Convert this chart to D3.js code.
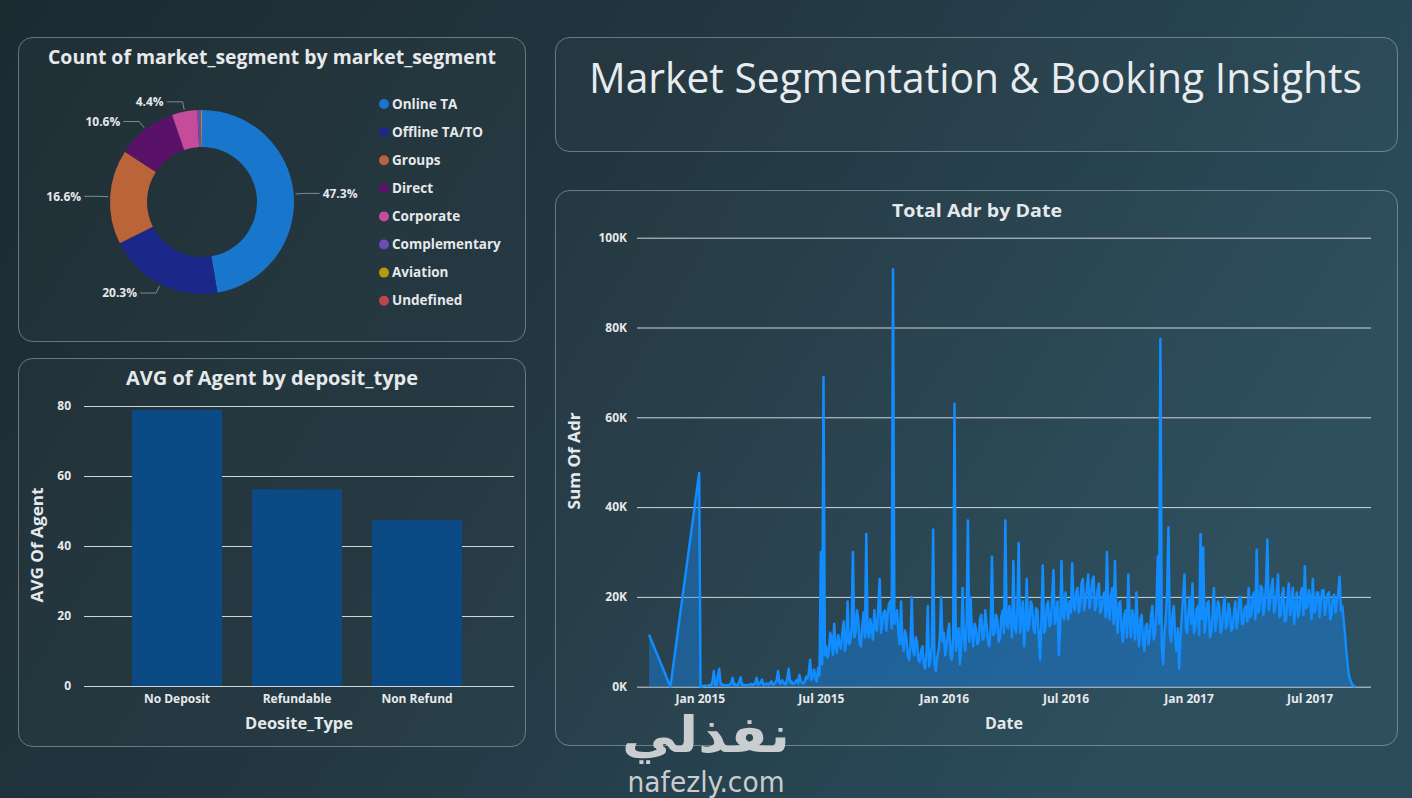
<!DOCTYPE html>
<html>
<head>
<meta charset="utf-8">
<script src="https://cdn.jsdelivr.net/npm/d3@7"></script>
<style>
  html, body { margin: 0; padding: 0; width: 1412px; height: 798px; overflow: hidden; background: #1f2f38; }
  svg { display: block; font-family: "Open Sans", "Noto Sans", sans-serif; }
</style>
</head>
<body>
<div id="chart"></div>
<script>
// donut: market segments
const segments = ["Online TA", "Offline TA/TO", "Groups", "Direct", "Corporate", "Complementary", "Aviation", "Undefined"]
const segmentCounts = [56477, 24219, 19811, 12606, 5295, 743, 237, 2]
const segmentColors = ["#1877cd", "#1b2789", "#bb6439", "#5a1168", "#c44c9a", "#6a4bb8", "#b5990f", "#b9474d"]

// bars: average agent by deposit type
const depositTypes = ["No Deposit", "Refundable", "Non Refund"]
const avgAgent = [78.9, 56.2, 47.4]
const agentTicks = [0, 20, 40, 60, 80]

// line: total adr by date (sparse start, then one value every 2 days)
const sparseDates = ["2014-10-17", "2014-11-18", "2014-12-31"]
const sparseAdr = [11600, 0, 47600]
const adrStart = "2015-01-02"
const adrStepDays = 2
const adrValues = [
  // Jan - Jun 2015
  0, 100, 150, 250, 200, 150, 300, 400, 250, 1200, 3500, 200, 300, 2500, 4000, 500, 600, 300, 400, 350,
  300, 250, 500, 900, 2000, 400, 600, 300, 400, 1200, 2100, 300, 500, 400, 300, 350, 450, 500, 600, 400,
  500, 800, 2000, 500, 700, 900, 1600, 400, 500, 700, 600, 500, 800, 1200, 500, 600, 900, 1500, 3500, 800,
  700, 1400, 1000, 500, 600, 2000, 4000, 900, 1200, 600, 800, 1100, 1500, 700, 2600, 1300, 900, 700, 1200, 2200,
  1800, 3000, 6000, 1500, 2500, 3800, 1800, 1200, 4200, 2500,
  30000, 5000, 69000, 7000,
  // Jul - Dec 2015
  9000, 6500, 8000, 12000, 11000, 7000, 14000, 9000, 7500, 11500, 9500, 8500, 12000, 14500, 8000, 10000, 19000, 9500, 10000, 13000,
  30000, 11000, 12000, 17000, 15000, 10000, 9000, 13500, 16500, 11000, 34000, 12000, 11000, 15000, 13000, 10500, 17000, 13000, 12500, 18000,
  24000, 12000, 14000, 16500, 17000, 12500, 16000, 18500, 19000, 13000, 93000, 14000, 15000, 17000, 12000, 9500, 19000, 10000, 8000, 12500,
  11000, 7000, 6000, 9000, 20000, 8000, 7000, 11000, 10000, 6000, 5500, 8000, 9000, 5000, 4000, 7500, 18000, 4500, 6000, 9000,
  35000, 5000, 3500, 6500, 8000, 11000, 20000, 10000, 12000, 7000,
  // Jan - Jun 2016
  9000, 12000, 14000, 7000, 6000, 11000, 63000, 8000, 10000, 13000, 5000, 9000, 22000, 11000, 8000, 14000, 37000, 10000, 20000, 12000,
  9000, 14000, 13000, 9500, 10000, 15000, 16000, 10500, 11000, 17000, 14000, 10000, 9000, 13000, 29000, 11500, 12000, 16000, 15000, 10000,
  11000, 15500, 17000, 12000, 37000, 14000, 13000, 18000, 16000, 11000, 28000, 13500, 12000, 17000, 32000, 12000, 15000, 19000, 9000, 14000,
  24000, 12500, 14000, 19000, 18000, 13000, 12000, 17500, 17000, 11000, 6000, 15000, 27000, 12000, 13000, 18000, 19000, 13500, 14000, 20000,
  26000, 14000, 16000, 19000, 7000, 13000, 28000, 16000, 15000, 21000, 18000, 15000,
  // Jul - Dec 2016
  19000, 16500, 27500, 18000, 17000, 21000, 22000, 16500, 18000, 23000, 24000, 17000, 19000, 22000, 25000, 17500, 20000, 23500, 24500, 17000,
  18000, 21500, 23000, 16500, 17000, 20000, 21000, 15500, 30000, 17000, 15000, 20500, 22000, 14000, 28000, 16000, 12000, 18500, 19000, 12500,
  10000, 16000, 17000, 11000, 25000, 14500, 11000, 17000, 15000, 10500, 21000, 13000, 9000, 15000, 16000, 10000, 8000, 13500, 14000, 9500,
  11000, 16000, 18000, 10500, 12000, 17000, 29000, 14000, 77500, 9000, 5000, 12000, 15000, 21000, 35500, 12000, 10000, 16000, 18000, 11000,
  8000, 13000, 4000, 11000, 16000, 20000, 25000, 13000, 12000, 17000, 20000, 14000,
  // Jan - Jun 2017
  23000, 12000, 13000, 17000, 18000, 11500, 34000, 15000, 31000, 12000, 14000, 18500, 19000, 11000, 12000, 16000, 22000, 12500, 15000, 19000,
  18000, 12000, 13000, 17500, 20000, 13000, 14000, 18500, 17000, 12500, 13000, 16500, 19000, 13000, 15000, 20000, 20000, 14000, 14000, 17500,
  18000, 14500, 22000, 15500, 16000, 20000, 21000, 15000, 30500, 16500, 17000, 22500, 22000, 16000, 18000, 23000, 32800, 17000, 19000, 22000,
  24000, 16500, 18000, 21000, 25000, 15500, 16000, 20500, 22000, 14500, 15000, 19500, 23000, 16000, 19000, 22000, 14000, 18000, 21000, 15500,
  17000, 21000, 22000, 16000, 26800, 17500, 18000, 21500, 20000, 15000,
  // Jul - Sep 2017
  24000, 16500, 17000, 21000, 21000, 15500, 19000, 21500, 21500, 16000, 18000, 20500, 21000, 15000, 16000, 20000, 20500, 16500, 19000, 21000,
  24500, 17000, 18000, 15000, 12000, 8000, 5000, 2500, 1500, 700, 300, 100, 0
]
const adrTicks = [0, 20000, 40000, 60000, 80000, 100000]
const dateTicks = ["2015-01-01", "2015-07-01", "2016-01-01", "2016-07-01", "2017-01-01", "2017-07-01"]

const W = 1412, H = 798
const textColor = "#e6e9eb"
const gridColor = "#cfd6da"

const svg = d3.select("#chart").append("svg")
  .attr("width", W)
  .attr("height", H)

const defs = svg.append("defs")
const bg = defs.append("linearGradient")
  .attr("id", "bg")
  .attr("x1", "0").attr("y1", "0").attr("x2", "1").attr("y2", "0.35")
bg.append("stop").attr("offset", "0").attr("stop-color", "#1c2a32")
bg.append("stop").attr("offset", "0.45").attr("stop-color", "#22363f")
bg.append("stop").attr("offset", "1").attr("stop-color", "#2a4c5b")

svg.append("rect")
  .attr("width", W).attr("height", H)
  .attr("fill", "url(#bg)")

function panel(x, y, w, h) {
  svg.append("rect")
    .attr("x", x + 0.5).attr("y", y + 0.5)
    .attr("width", w).attr("height", h)
    .attr("rx", 14)
    .attr("fill", "rgba(255,255,255,0.02)")
    .attr("stroke", "rgba(195,205,210,0.45)")
    .attr("stroke-width", 1)
}

function title(text, cx, y, size, width, weight) {
  const t = svg.append("text")
    .attr("x", cx).attr("y", y)
    .attr("text-anchor", "middle")
    .attr("fill", textColor)
    .attr("font-size", size)
    .attr("font-weight", weight || 700)
    .text(text)
  if (width) t.attr("textLength", width).attr("lengthAdjust", "spacingAndGlyphs")
  return t
}

panel(18, 37, 507, 304)
panel(18, 358, 507, 388)
panel(555, 37, 842, 114)
panel(555, 190, 842, 555)

// ---- header
title("Market Segmentation & Booking Insights", 975.5, 93, 42, 773, 400)
  .attr("fill", "#e8ecee")

// ---- donut
title("Count of market_segment by market_segment", 272, 64, 19, 448)

const donut = svg.append("g").attr("transform", "translate(202,202)")
const total = d3.sum(segmentCounts)
const pieData = d3.pie().sort(null).value(d => d)(segmentCounts)
const arc = d3.arc().innerRadius(55).outerRadius(92)

donut.selectAll("path")
  .data(pieData)
  .join("path")
  .attr("d", arc)
  .attr("fill", (d, i) => segmentColors[i])

const labelled = pieData.filter(d => d.value / total > 0.03)
labelled.forEach(d => {
  const a = (d.startAngle + d.endAngle) / 2
  const right = Math.sin(a) > 0
  const p1 = [Math.sin(a) * 94, -Math.cos(a) * 94]
  const p2 = [Math.sin(a) * 102, -Math.cos(a) * 102]
  const p3 = [p2[0] + (right ? 16 : -16), p2[1]]
  donut.append("polyline")
    .attr("points", [p1, p2, p3].map(p => p.join(",")).join(" "))
    .attr("fill", "none")
    .attr("stroke", "#7f8c93")
    .attr("stroke-width", 1)
  donut.append("text")
    .attr("x", p3[0] + (right ? 3 : -3))
    .attr("y", p3[1])
    .attr("dy", "0.35em")
    .attr("text-anchor", right ? "start" : "end")
    .attr("fill", textColor)
    .attr("font-size", 12)
    .attr("font-weight", 700)
    .text((d.value / total * 100).toFixed(1) + "%")
})

const legend = svg.append("g").attr("transform", "translate(384,104)")
const rows = legend.selectAll("g")
  .data(segments)
  .join("g")
  .attr("transform", (d, i) => `translate(0,${i * 28.1})`)
rows.append("circle")
  .attr("r", 5)
  .attr("fill", (d, i) => segmentColors[i])
rows.append("text")
  .attr("x", 8)
  .attr("dy", "0.35em")
  .attr("fill", textColor)
  .attr("font-size", 13.5)
  .attr("font-weight", 700)
  .text(d => d)

// ---- bar chart
title("AVG of Agent by deposit_type", 272, 385, 19, 292)

const xb = d3.scaleBand()
  .domain(depositTypes)
  .range([117, 477])
  .paddingInner(0.25)
  .paddingOuter(0.125)
const yb = d3.scaleLinear().domain([0, 80]).range([686, 406])

const barAxis = svg.append("g")
  .attr("transform", "translate(84,0)")
  .call(d3.axisLeft(yb).tickValues(agentTicks).tickSize(-430).tickPadding(13))
barAxis.select(".domain").remove()
barAxis.selectAll("line").attr("stroke", gridColor).attr("stroke-width", 1)
barAxis.selectAll("text")
  .attr("fill", textColor).attr("font-size", 12).attr("font-weight", 700)
  .attr("font-family", "Open Sans, sans-serif")

svg.append("g").selectAll("rect")
  .data(depositTypes)
  .join("rect")
  .attr("x", d => xb(d))
  .attr("y", (d, i) => yb(avgAgent[i]))
  .attr("width", xb.bandwidth())
  .attr("height", (d, i) => yb(0) - yb(avgAgent[i]))
  .attr("fill", "#0c4a86")

const barX = svg.append("g")
  .attr("transform", "translate(0,686)")
  .call(d3.axisBottom(xb).tickSize(0).tickPadding(8))
barX.select(".domain").remove()
barX.selectAll("text")
  .attr("fill", textColor).attr("font-size", 12).attr("font-weight", 700)
  .attr("font-family", "Open Sans, sans-serif")

title("Deosite_Type", 299, 729, 16, 108)
svg.append("text")
  .attr("transform", "translate(43,545) rotate(-90)")
  .attr("text-anchor", "middle")
  .attr("fill", textColor)
  .attr("font-size", 16)
  .attr("font-weight", 700)
  .attr("textLength", 115)
  .attr("lengthAdjust", "spacingAndGlyphs")
  .text("AVG Of Agent")

// ---- line chart
title("Total Adr by Date", 977, 217, 18, 170)

const parse = d3.timeParse("%Y-%m-%d")
const adrSeries = sparseDates.map((d, i) => ({ date: parse(d), value: sparseAdr[i] }))
  .concat(adrValues.map((v, i) => ({ date: d3.timeDay.offset(parse(adrStart), i * adrStepDays), value: v })))

const xl = d3.scaleTime()
  .domain([parse("2014-09-29"), parse("2017-10-01")])
  .range([637, 1371])
const yl = d3.scaleLinear().domain([0, 100000]).range([686.7, 237.7])

const lineAxis = svg.append("g")
  .attr("transform", "translate(637,0)")
  .call(d3.axisLeft(yl).tickValues(adrTicks).tickFormat(d => d / 1000 + "K").tickSize(-734).tickPadding(10))
lineAxis.select(".domain").remove()
lineAxis.selectAll("line").attr("stroke", gridColor).attr("stroke-width", 1)
lineAxis.selectAll("text")
  .attr("fill", textColor).attr("font-size", 12).attr("font-weight", 700)
  .attr("font-family", "Open Sans, sans-serif")

svg.append("path")
  .datum(adrSeries)
  .attr("d", d3.area().x(d => xl(d.date)).y0(yl(0)).y1(d => yl(d.value)))
  .attr("fill", "#118dff")
  .attr("fill-opacity", 0.4)

svg.append("path")
  .datum(adrSeries)
  .attr("d", d3.line().x(d => xl(d.date)).y(d => yl(d.value)))
  .attr("fill", "none")
  .attr("stroke", "#118dff")
  .attr("stroke-width", 2.5)
  .attr("stroke-linejoin", "round")

const lineX = svg.append("g")
  .attr("transform", "translate(0,686.7)")
  .call(d3.axisBottom(xl).tickValues(dateTicks.map(parse)).tickFormat(d3.timeFormat("%b %Y")).tickSize(0).tickPadding(8))
lineX.select(".domain").remove()
lineX.selectAll("text")
  .attr("fill", textColor).attr("font-size", 12).attr("font-weight", 700)
  .attr("font-family", "Open Sans, sans-serif")

title("Date", 1004, 729, 16, 38)
svg.append("text")
  .attr("transform", "translate(580,461) rotate(-90)")
  .attr("text-anchor", "middle")
  .attr("fill", textColor)
  .attr("font-size", 16)
  .attr("font-weight", 700)
  .attr("textLength", 97)
  .attr("lengthAdjust", "spacingAndGlyphs")
  .text("Sum Of Adr")

// ---- watermark
svg.append("text")
  .attr("x", 706).attr("y", 752)
  .attr("text-anchor", "middle")
  .attr("fill", "#c9cdcf")
  .attr("font-family", "DejaVu Sans, sans-serif")
  .attr("font-size", 50)
  .attr("font-weight", 700)
  .attr("textLength", 168)
  .attr("lengthAdjust", "spacingAndGlyphs")
  .text("نفذلي")
svg.append("text")
  .attr("x", 706).attr("y", 792)
  .attr("text-anchor", "middle")
  .attr("fill", "#c9cdcf")
  .attr("font-family", "DejaVu Sans, sans-serif")
  .attr("font-size", 28)
  .attr("textLength", 157)
  .attr("lengthAdjust", "spacingAndGlyphs")
  .text("nafezly.com")
</script>
</body>
</html>
